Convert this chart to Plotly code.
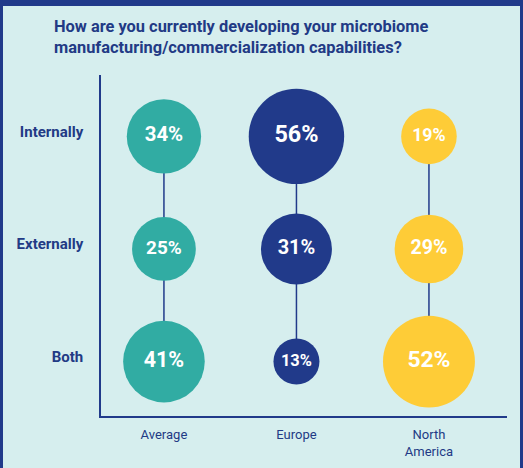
import numpy as np
import plotly.graph_objects as go

# ---- data ----
groups = ["Average", "Europe", "North<br>America"]
answers = ["Internally", "Externally", "Both"]
average = [34, 25, 41]
europe = [56, 31, 13]
north_america = [19, 29, 52]
title_text = ("How are you currently developing your microbiome<br>"
              "manufacturing/commercialization capabilities?")

# ---- style ----
NAVY = "#213a8a"
TEXT = "#223a85"
BG = "#d6eeee"
colors = ["#31aca3", "#213a8a", "#fecc37"]
K = 12.75  # diameter per sqrt(percent)

W, H = 523, 468
ML, MR, MT, MB = 101, 16, 72, 55
PW, PH = W - ML - MR, H - MT - MB

fig = go.Figure()
series = [average, europe, north_america]

# connector lines
for g in groups:
    fig.add_trace(go.Scatter(
        x=[g] * len(answers), y=answers, mode="lines",
        line=dict(color=NAVY, width=1.5), hoverinfo="skip", showlegend=False,
    ))

# bubbles
for g, vals, c in zip(groups, series, colors):
    fig.add_trace(go.Scatter(
        x=[g] * len(vals), y=answers, mode="markers+text",
        marker=dict(size=vals, sizemode="area", sizeref=2 / K ** 2,
                    color=c, line=dict(width=0), opacity=1),
        text=[f"<b>{v}%</b>" for v in vals],
        textposition="middle center",
        textfont=dict(family="Roboto", color="white",
                      size=[10 + 0.14 * K * np.sqrt(v) for v in vals]),
        showlegend=False, name=g.replace("<br>", " "),
    ))

# title (two lines)
fig.add_annotation(
    text=f"<b>{title_text}</b>", xref="paper", yref="paper",
    x=(52 - ML) / PW, y=(H - MB - 12) / PH,
    xanchor="left", yanchor="top", align="left", showarrow=False,
    font=dict(family="Roboto", size=16.4, color=TEXT),
)

# inner light panel over a navy page -> 3px navy frame
fig.add_shape(
    type="rect", xref="paper", yref="paper", layer="below",
    x0=(3 - ML) / PW, x1=(W - 3 - ML) / PW,
    y0=-(MB - 3) / PH, y1=(H - MB - 3) / PH,
    line=dict(width=0), fillcolor=BG,
)

fig.update_layout(
    width=W, height=H, autosize=False,
    margin=dict(l=ML, r=MR, t=MT, b=MB),
    paper_bgcolor=NAVY, plot_bgcolor="rgba(0,0,0,0)",
    font=dict(family="Roboto", color=TEXT),
    xaxis=dict(
        type="category", categoryorder="array", categoryarray=groups,
        range=[-0.475, 2.589], showline=True, linecolor=NAVY, linewidth=1.5,
        showgrid=False, zeroline=False, ticks="",
        tickfont=dict(family="Roboto", size=13, color=TEXT),
        ticklabelstandoff=6,
    ),
    yaxis=dict(
        type="category", categoryorder="array", categoryarray=answers[::-1],
        range=[-0.483, 2.545], showline=True, linecolor=NAVY, linewidth=1.5,
        showgrid=False, zeroline=False, ticks="",
        tickfont=dict(family="Roboto", size=15, color=TEXT, weight="bold"),
        ticklabelstandoff=13, ticklabelshift=-5,
    ),
)

fig.write_html(
    "out.html",
    config={"displayModeBar": False},
    post_script=("var gd=document.getElementById('{plot_id}');"
                 "gd.style.position='fixed';gd.style.top='3px';gd.style.left='0px';"
                 "document.documentElement.style.overflow='hidden';"
                 "document.body.style.margin='0';"
                 "document.body.style.background='" + NAVY + "';"
                 "window.scrollTo(0,0);"),
)
